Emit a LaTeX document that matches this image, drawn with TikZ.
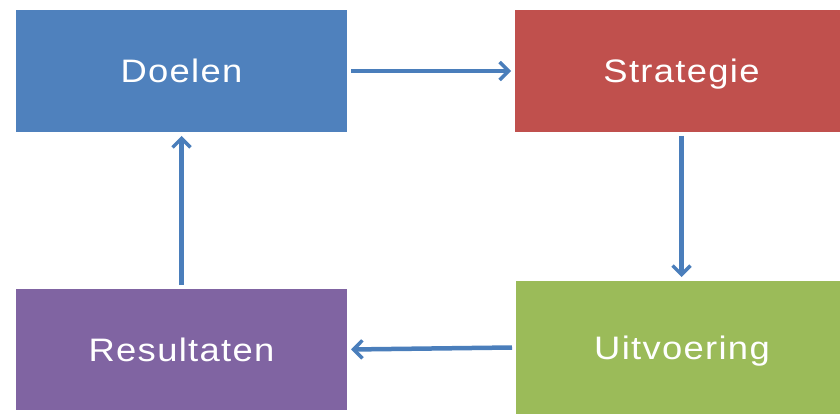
\documentclass[tikz,border=0pt]{standalone}
\usepackage{fontspec}
\setmainfont{Liberation Sans}[LetterSpace=4,FakeStretch=1.12]
\usetikzlibrary{arrows.meta,shadows}
\definecolor{cblue}{HTML}{4F81BD}
\definecolor{cred}{HTML}{C0504D}
\definecolor{cgreen}{HTML}{9BBB59}
\definecolor{cpurple}{HTML}{8064A2}
\definecolor{carrow}{HTML}{4A7EBB}
\tikzset{
  card/.style={rectangle, draw=white, line width=4pt, inner sep=0pt,
    text=white, font=\fontsize{32.5}{38}\selectfont,
    text height=23pt, text depth=0pt,
    drop shadow={shadow xshift=-1.5pt, shadow yshift=-1.5pt, opacity=0.3, fill=gray}},
  flow/.style={draw=carrow, line width=4.5pt, -{Straight Barb[length=9pt,width=18pt,line width=3.5pt]}}
}
\begin{document}
\begin{tikzpicture}[x=1pt,y=-1pt]
\useasboundingbox (0,0) rectangle (840,414);
\node[card, fill=cblue, minimum width=335pt, minimum height=126pt] (D) at (181.5,71) {Doelen};
\node[card, fill=cred, minimum width=337pt, minimum height=126pt] (S) at (681.5,71) {Strategie};
\node[card, fill=cgreen, minimum width=336pt, minimum height=137pt] (U) at (682,347.5) {Uitvoering};
\node[card, fill=cpurple, minimum width=335pt, minimum height=125pt] (R) at (181.5,349.5) {Resultaten};
\draw[flow] (D.east) -- (S.west);
\draw[flow] (S.south) -- (S.south |- U.north);
\draw[flow] (U.west) -- (R.east);
\draw[flow] (R.north) -- (D.south);
\end{tikzpicture}
\end{document}
